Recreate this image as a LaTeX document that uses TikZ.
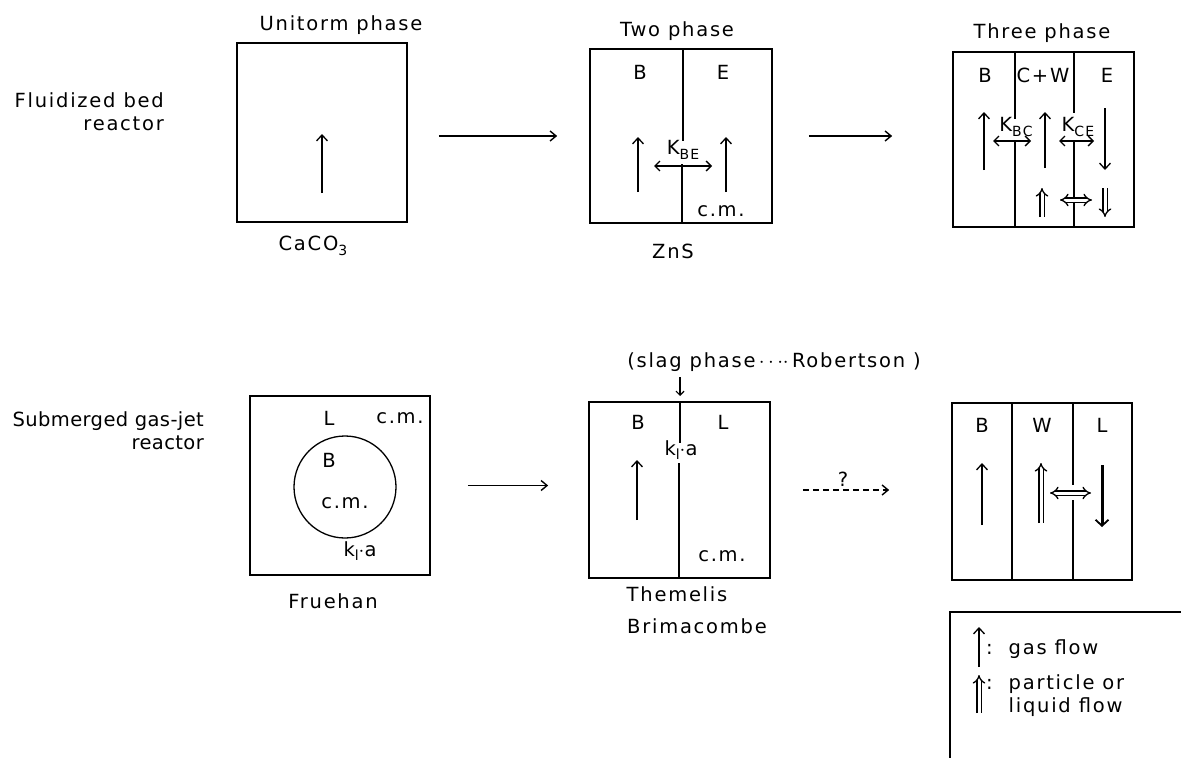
\documentclass[tikz,border=0pt]{standalone}
\usepackage{fontspec}
\setmainfont{DejaVu Sans}[LetterSpace=9]
\newfontfamily\tightfont{DejaVu Sans}[LetterSpace=2]
\usetikzlibrary{arrows.meta}
\newcommand\sbs[1]{\raisebox{-0.45ex}{\fontsize{14}{14}\selectfont #1}}
\tikzset{
  box/.style={draw, line width=1.7pt, inner sep=0pt},
  divl/.style={line width=1.4pt},
  lbl/.style={font=\fontsize{19.5}{23}\selectfont, inner sep=1pt},
  gas/.style={line width=1.3pt, -{Straight Barb[length=6pt,width=11pt,line width=1.3pt]}},
  gasboth/.style={line width=1.3pt, {Straight Barb[length=5pt,width=10pt,line width=1.3pt]}-{Straight Barb[length=5pt,width=10pt,line width=1.3pt]}},
  pflow/.style={double, double distance=3pt, line width=1.3pt, -Implies},
  pboth/.style={double, double distance=3pt, line width=1.3pt, Implies-Implies},
  conn/.style={line width=1.4pt, -{Straight Barb[length=6pt,width=10pt,line width=1.4pt]}},
}
\begin{document}
\begin{tikzpicture}[x=1pt,y=-1pt]
\useasboundingbox (0,0) rectangle (1181,758);
% ---------- row labels
\node[lbl, align=right, anchor=east] (fbr) at (165,112) {Fluidized bed\\reactor};
\node[lbl, font=\fontsize{19.5}{23}\selectfont\tightfont, align=right, anchor=east] (sgr) at (205,431) {Submerged gas-jet\\reactor};
% ---------- boxes
\node[box, minimum width=170pt, minimum height=179pt] (b1) at (322,132.5) {};
\node[box, minimum width=182pt, minimum height=174pt] (b2) at (681,136) {};
\node[box, minimum width=181pt, minimum height=175pt] (b3) at (1043.5,139.5) {};
\node[box, minimum width=180pt, minimum height=179pt] (b4) at (340,485.5) {};
\node[box, minimum width=181pt, minimum height=176pt] (b5) at (679.5,490) {};
\node[box, minimum width=180pt, minimum height=177pt] (b6) at (1042,491.5) {};
% ---------- titles
\node[lbl] (t1) at (341,25) {Unitorm phase};
\node[lbl] (t2) at (677,31) {Two phase};
\node[lbl] (t3) at (1042,33) {Three phase};
% ---------- box 1
\draw[gas] (322,193) -- (322,134);
\node[lbl] (caco) at (313,246) {CaCO\sbs{3}};
% ---------- box 2
\draw[divl] (683,49) -- (683,141);
\draw[divl] (682,164) -- (682,223);
\node[lbl] (B2) at (640,72) {B};
\node[lbl] (E2) at (723,72) {E};
\draw[gas] (638,192) -- (638,137);
\draw[gas] (726,192) -- (726,137);
\node[lbl] (kbe) at (683,150) {K\sbs{BE}};
\draw[gasboth] (654,166) -- (712,166);
\node[lbl] (cm2) at (721,211) {c.m.};
\node[lbl] (zns) at (673,251) {ZnS};
% ---------- box 3
\draw[divl] (1015,52) -- (1015,119);
\draw[divl] (1015,141) -- (1015,227);
\draw[divl] (1074,52) -- (1074,113);
\draw[divl] (1074,141) -- (1074,227);
\node[lbl] (B3) at (985,75) {B};
\node[lbl] (CW3) at (1043,75) {C+W};
\node[lbl] (E3) at (1107,75) {E};
\draw[gas] (984,170) -- (984,112);
\draw[gas] (1045,168) -- (1045,112);
\draw[gas] (1105,108) -- (1105,170);
\node[lbl] (kbc) at (1016,127) {K\sbs{BC}};
\node[lbl] (kce) at (1078,127) {K\sbs{CE}};
\draw[gasboth] (993,141) -- (1031,141);
\draw[gasboth] (1059,141) -- (1094,141);
\draw[pflow] (1042,217) -- (1042,188);
\draw[pboth] (1060,200) -- (1092,200);
\draw[pflow] (1105,188) -- (1105,217);
% ---------- box 4
\draw[line width=1.3pt] (345,487) circle (51pt);
\node[lbl] (L4) at (329,418) {L};
\node[lbl] (cm4a) at (400,418) {c.m.};
\node[lbl] (B4) at (329,460) {B};
\node[lbl] (cm4b) at (345,503) {c.m.};
\node[lbl] (kla4) at (360,551) {k\sbs{l}$\cdot$a};
\node[lbl] (fru) at (333,601) {Fruehan};
% ---------- box 5
\draw[divl] (680,402) -- (680,443);
\draw[divl] (679,463) -- (679,578);
\node[lbl] (B5) at (638,422) {B};
\node[lbl] (L5) at (723,422) {L};
\node[lbl] (kla5) at (681,450) {k\sbs{l}$\cdot$a};
\draw[gas] (637,520) -- (637,460);
\node[lbl] (cm5) at (722,556) {c.m.};
\node[lbl] (them) at (677,594) {Themelis};
\node[lbl] (brim) at (697,626) {Brimacombe};
\node[lbl] (slag) at (774,362) {(slag phase\,$\cdots\!\cdot$\,Robertson )};
\coordinate (slagtip) at (680,396);
\draw[line width=1.2pt, -{Straight Barb[length=4pt,width=8pt,line width=1.2pt]}] (680,377) -- (slagtip);
% ---------- box 6
\draw[divl] (1012,403) -- (1012,580);
\draw[divl] (1073,403) -- (1073,485);
\draw[divl] (1073,500) -- (1073,580);
\node[lbl] (B6) at (982,425) {B};
\node[lbl] (W6) at (1042,425) {W};
\node[lbl] (L6) at (1102,425) {L};
\draw[gas] (982,525) -- (982,463);
\draw[pflow] (1041,523) -- (1041,463);
\draw[pboth] (1050,493) -- (1091,493);
\draw[line width=3pt, -{Straight Barb[length=6pt,width=13pt,line width=1.8pt]}] (1102,465) -- (1102,527);
% ---------- connectors between stages
\draw[conn, shorten <=31pt, shorten >=32pt] (b1.east |- b2.west) -- (b2.west);
\draw[conn, shorten <=36pt, shorten >=60pt] (b2.east) -- (b3.west |- b2.east);
\draw[conn, shorten <=37pt, shorten >=40pt] (b4.east) -- (b5.west |- b4.east);
\draw[conn, dash pattern=on 6pt off 4pt, shorten <=32pt, shorten >=62pt] (b5.east) -- (b6.west |- b5.east);
\node[lbl] (q) at (843,479) {?};
% ---------- legend
\coordinate (lgtr) at (1181,612);
\coordinate (lgtl) at (950,612);
\coordinate (lgbl) at (950,758);
\draw[line width=1.4pt] (lgtr) -- (lgtl) -- (lgbl);
\draw[gas] (979,667) -- (979,627);
\node[lbl, anchor=west] (lg1) at (985,649) {:~~gas flow};
\draw[pflow] (979,713) -- (979,675);
\node[lbl, anchor=north west, align=left] (lg2) at (985,673) {:~~particle or\\\phantom{:~~}liquid flow};
\end{tikzpicture}
\end{document}
